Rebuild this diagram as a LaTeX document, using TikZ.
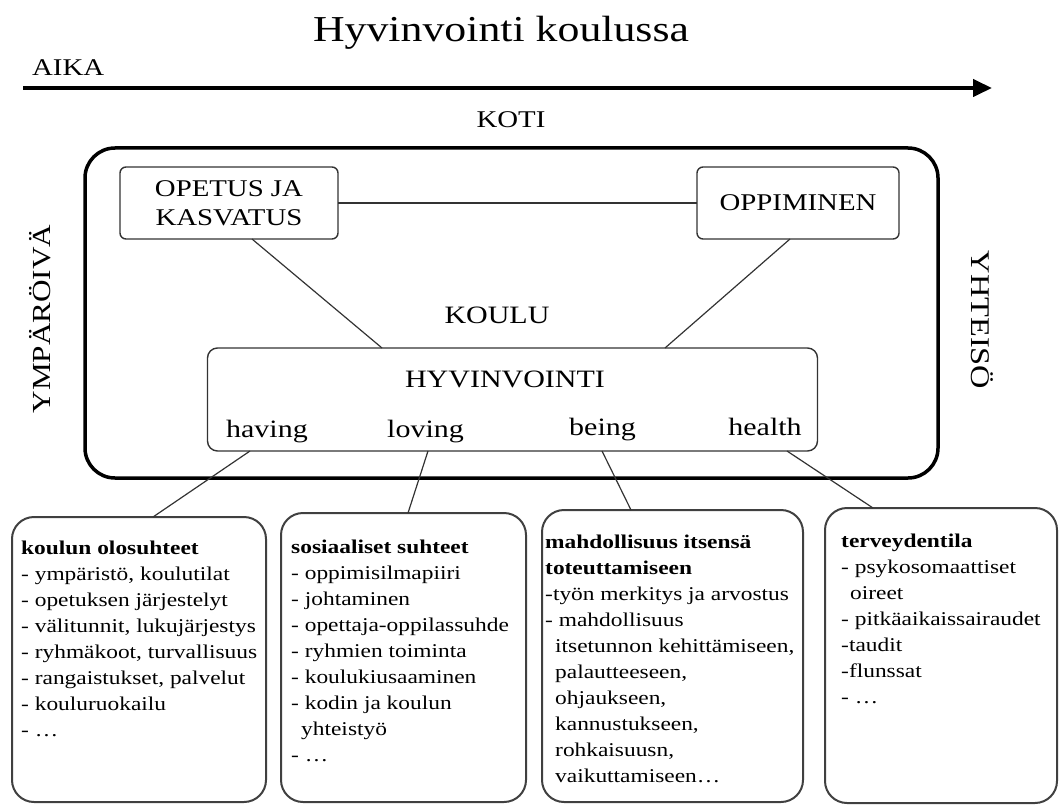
\documentclass[tikz,border=0pt]{standalone}
\usepackage{fontspec}
\setmainfont{Liberation Serif}[FakeStretch=1.2]
\usetikzlibrary{arrows.meta}

\tikzset{
  framebox/.style={draw=black!80, line width=1.4pt, rounded corners=6pt, inner sep=0pt, outer sep=0pt},
  cardbox/.style={draw=black!75, line width=2pt, rounded corners=22pt, inner sep=0pt, outer sep=0pt},
  capword/.style={font=\fontsize{24}{29}\selectfont, inner sep=0pt},
  smallword/.style={font=\fontsize{25}{29}\selectfont, inner sep=0pt, anchor=base},
  listtext/.style={font=\fontsize{19.5}{26}\selectfont, align=left, inner sep=0pt, anchor=north west},
  linkline/.style={draw=black!80, line width=1.2pt},
}

\begin{document}
\begin{tikzpicture}[x=1pt, y=-1pt]
  \useasboundingbox (0,0) rectangle (1059,805);

  % Title and time axis
  \node[font=\fontsize{36.5}{40}\selectfont, inner sep=0pt, anchor=base] (title) at (501,42) {Hyvinvointi koulussa};
  \node[capword, anchor=base west] (aika) at (32,76) {AIKA};
  \coordinate (t0) at (23,88);
  \coordinate (t1) at (992,88);
  \draw[line width=4pt, -{Triangle[length=19pt, width=17pt]}] (t0) -- (t1);
  \node[capword, anchor=base] (koti) at (511,128) {KOTI};
  \node[capword, font=\fontsize{26}{29}\selectfont, rotate=90] (ymparoiva) at (40,319) {YMPÄRÖIVÄ};
  \node[capword, font=\fontsize{27}{29}\selectfont, rotate=-90] (yhteiso) at (982,320) {YHTEISÖ};

  % Nodes
  \node[draw, line width=3.5pt, rounded corners=30pt, minimum width=853pt, minimum height=330pt, inner sep=0pt, outer sep=0pt] (koulubox) at (511.5,313) {};
  \node[framebox, capword, align=center, minimum width=218pt, minimum height=72pt] (opetus) at (229,203) {OPETUS JA\\KASVATUS};
  \node[framebox, capword, minimum width=202pt, minimum height=72pt] (oppiminen) at (798,203) {OPPIMINEN};
  \node[capword, font=\fontsize{25}{29}\selectfont, anchor=base] (koulu) at (497,323) {KOULU};
  \node[framebox, rounded corners=10pt, minimum width=610pt, minimum height=103pt] (hyv) at (512.5,399.5) {};
  \node[capword, font=\fontsize{25}{29}\selectfont, anchor=base] (hyvtext) at (505,387) {HYVINVOINTI};
  \node[smallword] (having) at (267,437) {having};
  \node[smallword] (loving) at (425.5,437) {loving};
  \node[smallword] (being) at (602.5,435) {being};
  \node[smallword] (health) at (765,435) {health};

  \node[cardbox, minimum width=254pt, minimum height=285pt] (olo) at (139,659.5) {};
  \node[cardbox, minimum width=245pt, minimum height=289pt] (suhde) at (403.5,657.5) {};
  \node[cardbox, minimum width=261pt, minimum height=292pt] (itse) at (672.5,656) {};
  \node[cardbox, minimum width=232pt, minimum height=295pt] (terveys) at (941,655.5) {};

  \node[listtext] (olotext) at (21,541) {\textbf{koulun olosuhteet}\\
    - ympäristö, koulutilat\\
    - opetuksen järjestelyt\\
    - välitunnit, lukujärjestys\\
    - ryhmäkoot, turvallisuus\\
    - rangaistukset, palvelut\\
    - kouluruokailu\\
    - \ldots};
  \node[listtext] (suhdetext) at (291,540) {\textbf{sosiaaliset suhteet}\\
    - oppimisilmapiiri\\
    - johtaminen\\
    - opettaja-oppilassuhde\\
    - ryhmien toiminta\\
    - koulukiusaaminen\\
    - kodin ja koulun\\
    \hspace*{10pt}yhteistyö\\
    - \ldots};
  \node[listtext] (itsetext) at (545,535) {\textbf{mahdollisuus itsensä}\\
    \textbf{toteuttamiseen}\\
    -työn merkitys ja arvostus\\
    - mahdollisuus\\
    \hspace*{10pt}itsetunnon kehittämiseen,\\
    \hspace*{10pt}palautteeseen,\\
    \hspace*{10pt}ohjaukseen,\\
    \hspace*{10pt}kannustukseen,\\
    \hspace*{10pt}rohkaisuusn,\\
    \hspace*{10pt}vaikuttamiseen\ldots};
  \node[listtext] (terveystext) at (841,534) {\textbf{terveydentila}\\
    - psykosomaattiset\\
    \hspace*{9pt}oireet\\
    - pitkäaikaissairaudet\\
    -taudit\\
    -flunssat\\
    - \ldots};

  % Lines
  \draw[linkline] (opetus.east) -- (oppiminen.west);
  \draw[linkline] ([xshift=23pt]opetus.south) -- ([xshift=-130.5pt]hyv.north);
  \draw[linkline] ([xshift=-8pt]oppiminen.south) -- ([xshift=152.5pt]hyv.north);
  \draw[linkline] ([xshift=-262.5pt]hyv.south) -- ([xshift=14pt]olo.north);
  \draw[linkline] ([xshift=-84.5pt]hyv.south) -- ([xshift=4.5pt]suhde.north);
  \draw[linkline] ([xshift=89.5pt]hyv.south) -- ([xshift=-41.5pt]itse.north);
  \draw[linkline] ([xshift=274.5pt]hyv.south) -- ([xshift=-68pt]terveys.north);
\end{tikzpicture}
\end{document}
